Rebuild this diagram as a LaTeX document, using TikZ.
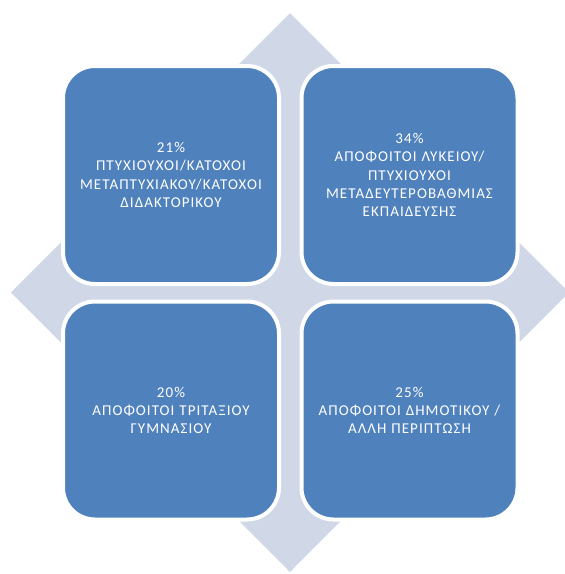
\documentclass[tikz,border=0pt]{standalone}
\usepackage{fontspec}
\setmainfont{Carlito}[LetterSpace=7]
\definecolor{boxblue}{HTML}{4F81BD}
\definecolor{diamondgray}{HTML}{D0D8E8}
\tikzset{
  quad/.style={rectangle, rounded corners=32pt, fill=boxblue, draw=white, line width=4pt,
    minimum width=216pt, minimum height=218pt, inner sep=0pt,
    text=white, align=center, text width=205pt,
    font=\fontsize{15}{18.3}\selectfont},
  backdiamond/.style={fill=diamondgray, draw=none}
}
\begin{document}
\begin{tikzpicture}[x=1pt,y=-1pt]
\useasboundingbox (0,0) rectangle (565,574);
\coordinate (c) at (290,292.5);
\fill[backdiamond] (290,13) -- (569,292.5) -- (290,572) -- (11,292.5) -- cycle;
\node[quad] (tl) at (171,175) {21\%\\ΠΤΥΧΙΟΥΧΟΙ/ΚΑΤΟΧΟΙ\\ΜΕΤΑΠΤΥΧΙΑΚΟΥ/ΚΑΤΟΧΟΙ\\ΔΙΔΑΚΤΟΡΙΚΟΥ};
\node[quad] (tr) at (409.5,175) {34\%\\ΑΠΟΦΟΙΤΟΙ ΛΥΚΕΙΟΥ/\\ΠΤΥΧΙΟΥΧΟΙ\\ΜΕΤΑΔΕΥΤΕΡΟΒΑΘΜΙΑΣ\\ΕΚΠΑΙΔΕΥΣΗΣ};
\node[quad] (bl) at (171,410.5) {20\%\\ΑΠΟΦΟΙΤΟΙ ΤΡΙΤΑΞΙΟΥ\\ΓΥΜΝΑΣΙΟΥ};
\node[quad] (br) at (409.5,410.5) {25\%\\ΑΠΟΦΟΙΤΟΙ ΔΗΜΟΤΙΚΟΥ /\\ΑΛΛΗ ΠΕΡΙΠΤΩΣΗ};
\end{tikzpicture}
\end{document}
